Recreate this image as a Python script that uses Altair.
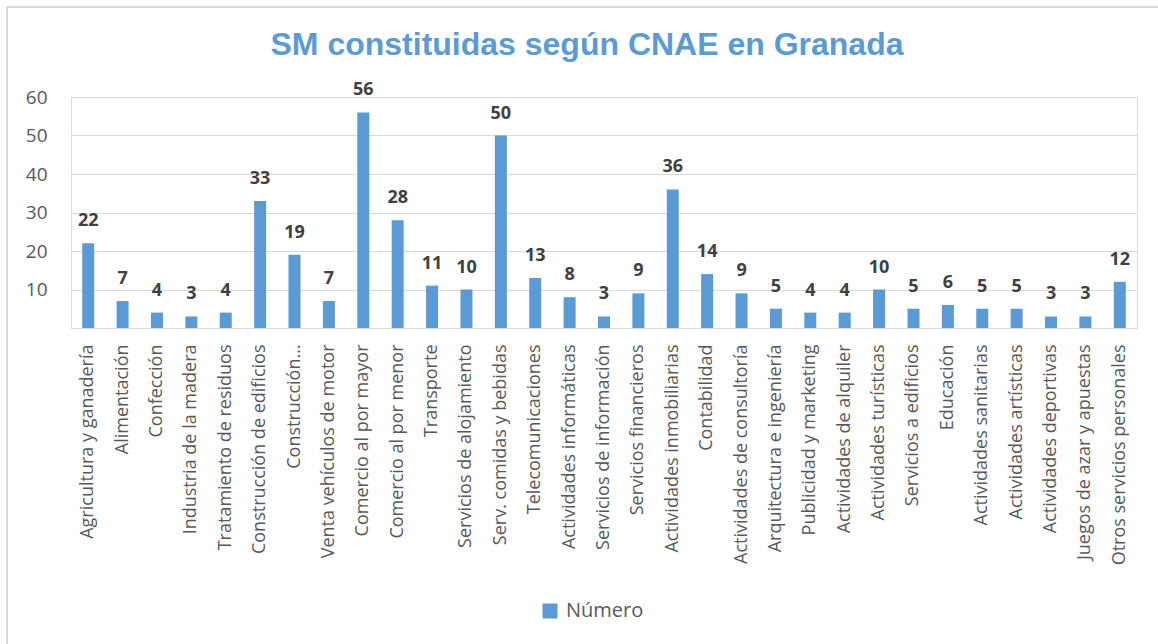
import altair as alt
import pandas as pd

categories = [
    "Agricultura y ganadería", "Alimentación", "Confección", "Industria de la madera",
    "Tratamiento de residuos", "Construcción de edificios", "Construcción…",
    "Venta vehículos de motor", "Comercio al por mayor", "Comercio al por menor",
    "Transporte", "Servicios de alojamiento", "Serv. comidas y bebidas",
    "Telecomunicaciones", "Actividades informáticas", "Servicios de información",
    "Servicios financieros", "Actividades inmobiliarias", "Contabilidad",
    "Actividades de consultoría", "Arquitectura e ingeniería", "Publicidad y marketing",
    "Actividades de alquiler", "Actividades turísticas", "Servicios a edificios",
    "Educación", "Actividades sanitarias", "Actividades artísticas",
    "Actividades deportivas", "Juegos de azar y apuestas", "Otros servicios personales",
]
values = [22, 7, 4, 3, 4, 33, 19, 7, 56, 28, 11, 10, 50, 13, 8, 3, 9, 36, 14, 9,
          5, 4, 4, 10, 5, 6, 5, 5, 3, 3, 12]
series = ["Número"] * len(values)
y_ticks = [10, 20, 30, 40, 50, 60]

df = pd.DataFrame({"cat": categories, "val": values, "serie": series})

BLUE = "#5B9BD5"
GRID = "#D9D9D9"
TXT = "#595959"

x_enc = alt.X(
    "cat:N", sort=None,
    scale=alt.Scale(paddingInner=0, paddingOuter=0),
    axis=alt.Axis(
        title=None, labelAngle=-90, labelAlign="right", labelBaseline="middle",
        labelFont="Open Sans", labelFontSize=18, labelColor=TXT, labelPadding=16,
        ticks=False, domainColor=GRID, domainWidth=1, labelLimit=400,
    ),
)
y_enc = alt.Y(
    "val:Q",
    scale=alt.Scale(domain=[0, 60], nice=False),
    axis=alt.Axis(
        title=None, values=y_ticks, grid=True, gridColor=GRID, gridWidth=1,
        domain=False, ticks=False, labelFont="Open Sans", labelFontSize=19,
        labelColor=TXT, labelPadding=24,
    ),
)

bars = alt.Chart(df).mark_bar(size=12).encode(
    x=x_enc,
    y=y_enc,
    color=alt.Color(
        "serie:N",
        scale=alt.Scale(range=[BLUE]),
        legend=alt.Legend(
            title=None, orient="none", legendX=469, legendY=504,
            symbolType="square", symbolSize=225, symbolStrokeWidth=0,
            labelFont="Open Sans", labelFontSize=20, labelColor=TXT, labelOffset=6,
        ),
    ),
)

labels = alt.Chart(df).mark_text(
    baseline="middle", dy=-22, font="Open Sans", fontWeight="bold",
    fontSize=18, color="#404040",
).encode(x=alt.X("cat:N", sort=None), y="val:Q", text="val:Q")

border = alt.Chart(pd.DataFrame({"k": [0]})).mark_rule(color=GRID, strokeWidth=2).encode(
    x=alt.value(-64), x2=alt.value(1100), y=alt.value(-90)
)
border_left = alt.Chart(pd.DataFrame({"k": [0]})).mark_rule(color=GRID, strokeWidth=2).encode(
    x=alt.value(-64), y=alt.value(-90), y2=alt.value(560)
)

chart = alt.layer(border, border_left, bars, labels).properties(
    width=1066,
    height=231,
    autosize=alt.AutoSizeParams(type="none"),
    padding={"left": 71, "top": 97, "right": 21, "bottom": 316},
    title=alt.TitleParams(
        "SM constituidas según CNAE en Granada",
        font="Liberation Sans", fontSize=32, fontWeight="bold", color=BLUE,
        anchor="middle", frame="group", offset=-56, dx=-17,
    ),
).configure_view(stroke=None).configure(background="white")

chart.save("out.html", embed_options={"renderer": "svg", "actions": False})
